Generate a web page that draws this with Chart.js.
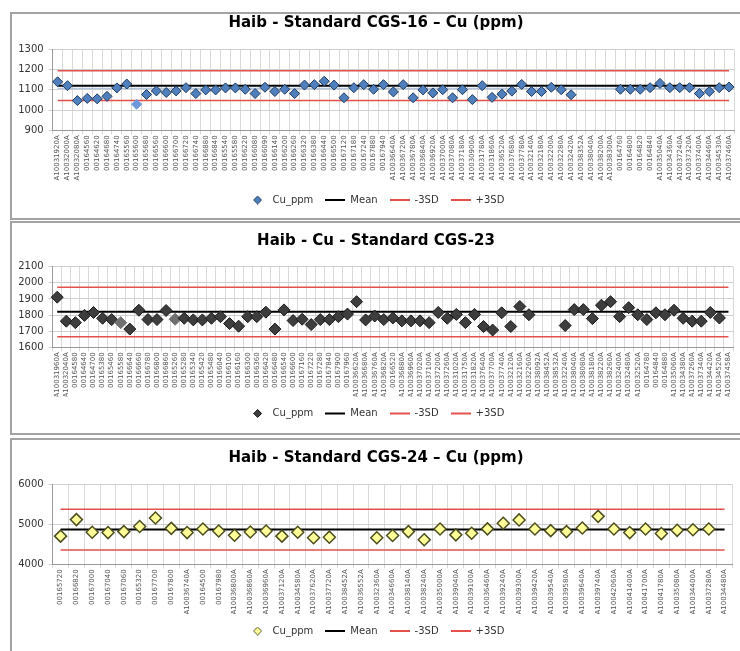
<!DOCTYPE html>
<html>
<head>
<meta charset="utf-8">
<script src="https://cdn.jsdelivr.net/npm/chart.js@4.4.0/dist/chart.umd.min.js"></script>
<style>
  body { margin: 0; background: #fff; }
  #page { position: relative; width: 740px; height: 651px; overflow: hidden; }
  .panel { position: absolute; left: 10px; width: 740px; border: 2px solid #a3a3a3; box-sizing: border-box; background: #fff; }
  canvas { position: absolute; left: 12px; }
</style>
</head>
<body>
<div id="page">
  <div class="panel" style="top:12px;height:208px"></div>
  <div class="panel" style="top:221px;height:214px"></div>
  <div class="panel" style="top:438px;height:230px"></div>
  <canvas id="c16" width="728" height="203" style="top:14px"></canvas>
  <canvas id="c23" width="728" height="209" style="top:223px"></canvas>
  <canvas id="c24" width="728" height="210" style="top:441px"></canvas>
</div>
<script>
// CGS-16
const cgs16Labels = ['A10031920A','A10032000A','A10032080A','00164560','00164620','00164680','00164740','00165560','00165600','00165680',
  '00166560','00166600','00166700','00166720','00166740','00166880','00166840','00165540','00165580','00166220',
  '00166080','00166090','00166140','00166200','00166260','00166320','00166380','00166440','00166500','00167120',
  '00167180','00167240','00167880','00167940','A10036640A','A10036720A','A10036780A','A10036840A','A10036920A','A10037000A',
  'A10037080A','A10037180A','A10030900A','A10031780A','A10031860A','A10036520A','A10037680A','A10037780A','A10032140A','A10032180A',
  'A10032200A','A10032280A','A10032420A','A10038352A','A10038040A','A10038200A','A10038300A','00164760','00164800','00164820',
  '00164840','A10035040A','A10034360A','A10037240A','A10037320A','A10037400A','A10034460A','A10034530A','A10037460A'];
const cgs16Cu = [1140,1121,1047,1058,1056,1068,1110,1129,1029,1077,
  1095,1087,1095,1111,1082,1100,1100,1110,1110,1103,
  1082,1113,1092,1103,1082,1124,1126,1143,1124,1061,
  1111,1126,1103,1126,1090,1126,1061,1100,1085,1101,
  1061,1101,1052,1121,1063,1079,1094,1127,1092,1092,
  1113,1101,1076,null,null,null,null,1103,1103,1103,
  1111,1132,1111,1111,1111,1082,1092,1111,1114];
const cgs16Flagged = [8];
const cgs16Mean = 1121, cgs16Lo = 1047, cgs16Hi = 1195, cgs16Ref = 1108;

// CGS-23
const cgs23Labels = ['A10031960A','A10032040A','00164580','00164640','00164700','00165380','00165460','00165580','00166640','00166660',
  '00166780','00166800','00166860','00165260','00165280','00165340','00165420','00165480','00166040','00166100',
  '00166160','00166300','00166360','00166420','00166480','00166540','00166600','00167160','00167220','00167280',
  '00167840','00167900','00167960','A10036620A','A10036680A','A10036760A','A10036820A','00166520','A10036880A','A10036960A',
  'A10037020A','A10037100A','A10037200A','A10037260A','A10031020A','A10031750A','A10031820A','A10037640A','A10037700A','A10037740A',
  'A10032120A','A10032160A','A10032260A','A10038092A','A10038452A','A10038532A','A10032240A','A10038040A','A10038080A','A10038180A',
  'A10038220A','A10038260A','A10032400A','A10032480A','A10032520A','00164780','00164840','00164880','A10035060A','A10034380A',
  'A10037260A','A10037340A','A10034420A','A10034520A','A10037458A'];
const cgs23Cu = [1911,1762,1753,1798,1816,1780,1772,1753,1713,1830,
  1772,1772,1828,1774,1780,1770,1770,1780,1790,1747,
  1731,1790,1790,1818,1713,1832,1766,1774,1741,1772,
  1772,1790,1806,1883,1770,1794,1772,1782,1764,1764,
  1764,1753,1816,1780,1804,1753,1804,1729,1707,1814,
  1729,1853,1802,null,null,null,1735,1834,1834,1778,
  1861,1883,1790,1846,1802,1772,1814,1802,1830,1780,
  1762,1762,1816,1782,null];
const cgs23Flagged = [7, 13];
const cgs23Mean = 1820, cgs23Lo = 1666, cgs23Hi = 1973;

// CGS-24
const cgs24Labels = ['00165720','00166820','00167000','00167040','00167060','00165320','00167700','00167800','A10036740A','00164500',
  '00167980','A10036800A','A10036860A','A10036960A','A10037120A','A10034580A','A10037620A','A10037720A','A10038452A','A10036552A',
  'A10032360A','A10034660A','A10038140A','A10038240A','A10035000A','A10039040A','A10039100A','A10036460A','A10039240A','A10039300A',
  'A10039420A','A10039540A','A10039580A','A10039640A','A10039740A','A10042060A','A10041400A','A10041700A','A10041780A','A10035080A',
  'A10034400A','A10037280A','A10034480A'];
const cgs24Cu = [4701,5113,4798,4790,4814,4943,5154,4895,4790,4879,
  4830,4725,4806,4830,4701,4798,4660,4676,null,null,
  4660,4717,4814,4612,4879,4733,4774,4883,5024,5105,
  4879,4838,4814,4903,5194,4879,4790,4879,4765,4846,
  4862,4879,null];
const cgs24Mean = 4868, cgs24Lo = 4358, cgs24Hi = 5370;

Chart.defaults.font.family = "'DejaVu Sans', sans-serif";
const RED = '#e4504c';

function lineIcon(color, w) {
  const c = document.createElement('canvas');
  c.width = 20; c.height = 4;
  const x = c.getContext('2d');
  x.strokeStyle = color; x.lineWidth = w;
  x.beginPath(); x.moveTo(0, 2); x.lineTo(20, 2); x.stroke();
  return c;
}

function diamondIcon(fill, stroke) {
  const c = document.createElement('canvas');
  c.width = 9; c.height = 9;
  const x = c.getContext('2d');
  x.fillStyle = fill; x.strokeStyle = stroke; x.lineWidth = 1;
  x.beginPath();
  x.moveTo(4.5, 0.5); x.lineTo(8.5, 4.5); x.lineTo(4.5, 8.5); x.lineTo(0.5, 4.5);
  x.closePath(); x.fill(); x.stroke();
  return c;
}

function controlChart(id, o) {
  const flat = v => o.labels.map(() => v);
  const icons = [diamondIcon(o.fill, o.border), lineIcon('#000', 2), lineIcon(RED, 2), lineIcon(RED, 2)];
  const datasets = [
    {
      label: 'Cu_ppm', data: o.values, showLine: false,
      pointStyle: 'rectRot', pointRadius: o.radius, pointHoverRadius: o.radius,
      pointBackgroundColor: c => o.flagged.includes(c.dataIndex) ? o.flagFill : o.fill,
      pointBorderColor: c => o.flagged.includes(c.dataIndex) ? o.flagBorder : o.border,
      pointBorderWidth: o.bw
    },
    { label: 'Mean', data: flat(o.mean), borderColor: '#000', borderWidth: 2, pointRadius: 0 },
    { label: '-3SD', data: flat(o.lo), borderColor: RED, borderWidth: 1.5, pointRadius: 0 },
    { label: '+3SD', data: flat(o.hi), borderColor: RED, borderWidth: 1.5, pointRadius: 0 }
  ];
  if (o.ref != null) {
    datasets.push({ label: 'ref', data: flat(o.ref), borderColor: '#9bb7dc', borderWidth: 1, pointRadius: 0 });
  }
  return new Chart(document.getElementById(id), {
    type: 'line',
    data: { labels: o.labels, datasets },
    options: {
      responsive: false,
      animation: false,
      layout: { padding: { top: 0, left: 0, right: 0, bottom: o.lpb } },
      plugins: {
        tooltip: { enabled: false },
        title: {
          display: true, text: o.title, color: '#000',
          font: { size: 15, weight: 'bold' },
          padding: { top: o.tpt, bottom: o.tpb }
        },
        legend: {
          position: 'bottom',
          labels: {
            usePointStyle: true, pointStyleWidth: 20, boxHeight: 10, padding: 12,
            color: '#333', font: { size: 10 },
            generateLabels: chart => Chart.defaults.plugins.legend.labels.generateLabels(chart)
              .map(it => Object.assign(it, { pointStyle: icons[it.datasetIndex] })),
            filter: it => it.datasetIndex < 4
          }
        }
      },
      scales: {
        x: {
          offset: true,
          grid: { offset: true, color: '#d9d9d9', tickLength: 4 },
          border: { color: '#9a9a9a' },
          ticks: { autoSkip: false, minRotation: 90, maxRotation: 90, padding: 1, color: '#555', font: { size: 7 } },
          afterFit: s => { s.height = o.xh; s.paddingLeft = 0; s.paddingRight = 0; }
        },
        y: {
          min: o.min, max: o.max,
          ticks: { stepSize: o.step, color: '#333', font: { size: 10 }, padding: 5, callback: v => String(v) },
          grid: { color: '#cfcfcf', tickLength: 4 },
          border: { color: '#9a9a9a' },
          afterFit: s => { s.width = 40.7; s.paddingTop = 0; s.paddingBottom = 0; }
        }
      }
    }
  });
}

controlChart('c16', {
  title: 'Haib - Standard CGS-16 \u2013 Cu (ppm)', labels: cgs16Labels, values: cgs16Cu,
  mean: cgs16Mean, lo: cgs16Lo, hi: cgs16Hi, ref: cgs16Ref,
  min: 900, max: 1300, step: 100,
  fill: '#4f7fbd', border: '#1f3b5c', bw: 1, radius: 5,
  flagged: cgs16Flagged, flagFill: '#6d98dc', flagBorder: '#6d98dc',
  tpt: 0, tpb: 17.5, lpb: 2, xh: 52.7
});

controlChart('c23', {
  title: 'Haib - Cu - Standard CGS-23', labels: cgs23Labels, values: cgs23Cu,
  mean: cgs23Mean, lo: cgs23Lo, hi: cgs23Hi,
  min: 1600, max: 2100, step: 100,
  fill: '#3d3d3d', border: '#1a1a1a', bw: 1, radius: 6,
  flagged: cgs23Flagged, flagFill: '#707070', flagBorder: '#707070',
  tpt: 9, tpb: 16.7, lpb: 3.5, xh: 49.2
});

controlChart('c24', {
  title: 'Haib - Standard CGS-24 \u2013 Cu (ppm)', labels: cgs24Labels, values: cgs24Cu,
  mean: cgs24Mean, lo: cgs24Lo, hi: cgs24Hi,
  min: 4000, max: 6000, step: 1000,
  fill: '#ffff99', border: '#4d4d1f', bw: 1.5, radius: 6,
  flagged: [], flagFill: '#ffff99', flagBorder: '#4d4d1f',
  tpt: 8, tpb: 17, lpb: 5, xh: 49.7
});
</script>
</body>
</html>
